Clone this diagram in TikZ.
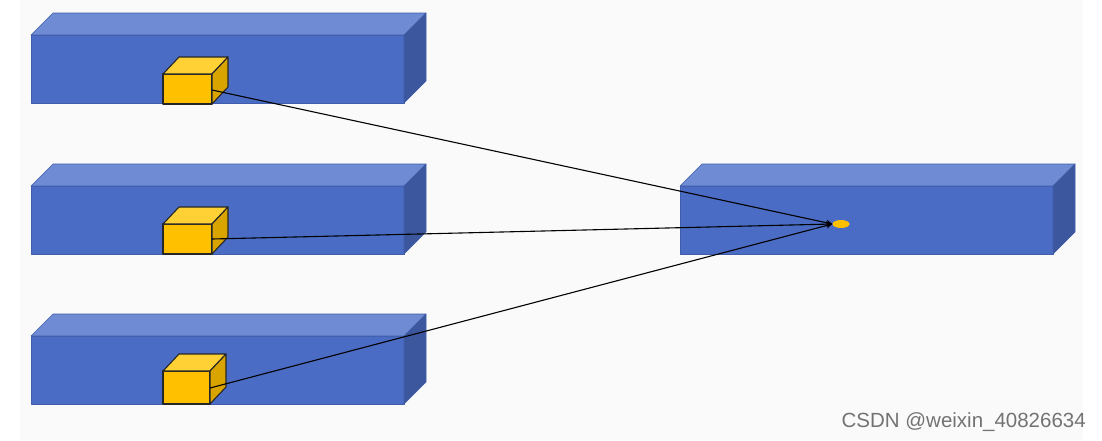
\documentclass[tikz,border=0pt]{standalone}
\usepackage{fontspec}
\newfontfamily\wmfont{Liberation Sans}
\usetikzlibrary{arrows.meta,shapes.geometric}
\definecolor{frontblue}{HTML}{4A6CC4}
\definecolor{topblue}{HTML}{6E8BD3}
\definecolor{sideblue}{HTML}{3C579E}
\definecolor{edgeblue}{HTML}{3F5DAA}
\definecolor{cubefront}{HTML}{FFC000}
\definecolor{cubetop}{HTML}{FFD135}
\definecolor{cubeside}{HTML}{D9A300}
\definecolor{panel}{HTML}{FAFAFA}
\tikzset{
  barface/.style={draw=edgeblue,line width=0.6pt,line join=round},
  cubeface/.style={draw=black!85,line width=1.1pt,line join=round},
  link/.style={draw=black,line width=1.1pt,-{Stealth[length=6pt,width=6pt]}},
  pics/bar/.style={code={
    \path[barface,fill=frontblue] (0,0) rectangle (373,68);
    \path[barface,fill=topblue] (0,0) -- (22,-22) -- (395,-22) -- (373,0) -- cycle;
    \path[barface,fill=sideblue] (373,0) -- (395,-22) -- (395,46) -- (373,68) -- cycle;
  }},
  pics/cube/.style args={#1/#2}{code={
    \path[cubeface,fill=cubefront] (0,0) rectangle (#1,#2);
    \path[cubeface,fill=cubetop] (0,0) -- (16,-17) -- (#1+16,-17) -- (#1,0) -- cycle;
    \path[cubeface,fill=cubeside] (#1,0) -- (#1+16,-17) -- (#1+16,#2-17) -- (#1,#2) -- cycle;
  }}
}
\begin{document}
\begin{tikzpicture}[x=1pt,y=-1pt]
  \fill[white] (0,0) rectangle (1102,440);
  \fill[panel] (20,0) rectangle (1083,440);
  \useasboundingbox (0,0) rectangle (1102,440);
  % bars
  \pic (barA) at (31,35) {bar};
  \pic (barB) at (31,186) {bar};
  \pic (barC) at (31,336) {bar};
  \pic (barR) at (680,186) {bar};
  % cubes
  \pic (cubeA) at (163,74) {cube={49/30}};
  \pic (cubeB) at (163,224) {cube={49/30}};
  \pic (cubeC) at (163,371) {cube={47/33}};
  % connection points
  \coordinate (srcA) at (212,90);
  \coordinate (srcB) at (212,239);
  \coordinate (srcC) at (210,388);
  \node[ellipse,fill=cubefront,minimum width=17pt,minimum height=8pt,inner sep=0pt] (target) at (841,224) {};
  \draw[link] (srcA) -- (target.west);
  \draw[link] (srcB) -- (target.west);
  \draw[link] (srcC) -- (target.west);
  % watermark
  \node[anchor=base east,text=black!55,font=\wmfont\fontsize{20.5}{24}\selectfont,inner sep=0pt] (wm) at (1086,427) {CSDN @weixin\_40826634};
\end{tikzpicture}
\end{document}
